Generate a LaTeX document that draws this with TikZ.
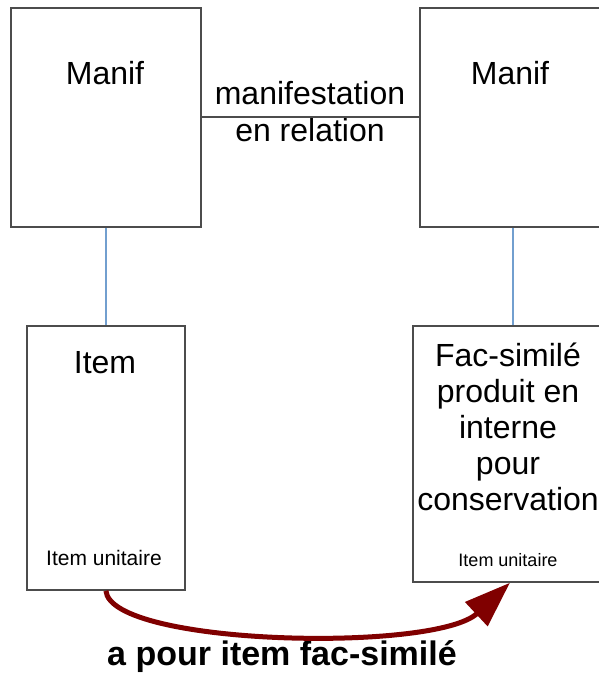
\documentclass[tikz,border=0pt]{standalone}
\usepackage{fontspec}
\setmainfont{Liberation Sans}
\usetikzlibrary{positioning, arrows.meta}
\definecolor{linkblue}{HTML}{729FCF}
\definecolor{darkred}{HTML}{800000}
\tikzset{
    entity/.style={
        draw=black!70,
        line width=1.8pt,
        rectangle,
        inner sep=0pt,
        anchor=north west,
    },
    bigtext/.style={font=\fontsize{32}{36}\selectfont, align=center, inner sep=0pt},
    link/.style={draw=linkblue, line width=2pt},
    facsim/.style={draw=darkred, line width=5pt, -{Triangle[length=46pt,width=32pt]}}
}

\begin{document}
\begin{tikzpicture}[x=1pt, y=-1pt]
                   \clip (0,0) rectangle (599,674);
                   \node[entity, minimum width=190pt, minimum height=219pt] (manifA) at (10,7) {};
                   \node[entity, minimum width=190pt, minimum height=219pt] (manifB) at (419,7) {};
                   \node[entity, minimum width=158pt, minimum height=264pt] (itemA) at (26,325) {};
                   \node[entity, minimum width=200pt, minimum height=256pt] (itemB) at (412,325) {};
                   \node[bigtext] (manifAname) at (105,73) {Manif};
                   \node[bigtext] (manifBname) at (510,73) {Manif};
                   \node[bigtext, font=\fontsize{32}{37}\selectfont] (rel) at (310,112) {manifestation\\en relation};
                   \node[bigtext] (itemAname) at (105,363) {Item};
                   \node[bigtext] (itemBname) at (508,427) {Fac-similé\\produit en\\interne\\pour\\conservation};
                   \node[font=\fontsize{21}{24}\selectfont, inner sep=0pt] (itemAtype) at (104,558) {Item unitaire};
                   \node[font=\fontsize{18}{20}\selectfont, inner sep=0pt] (itemBtype) at (508,560) {Item unitaire};
                   \node[font=\bfseries\fontsize{34}{38}\selectfont, inner sep=0pt] (facsimlbl) at (282,657) {a pour item fac-similé};
                   \draw[line width=1.8pt, black!70] (manifA.east) -- (manifB.west);
                   \draw[link] (manifA.south) -- (itemA.north);
                   \draw[link] (itemB.north) -- (itemB.north |- manifB.south);
                   \draw[facsim] (itemA.south) .. controls +(5,55) and +(-75,70) .. ([xshift=-3pt]itemB.south);
                   \end{tikzpicture}
\end{document}
